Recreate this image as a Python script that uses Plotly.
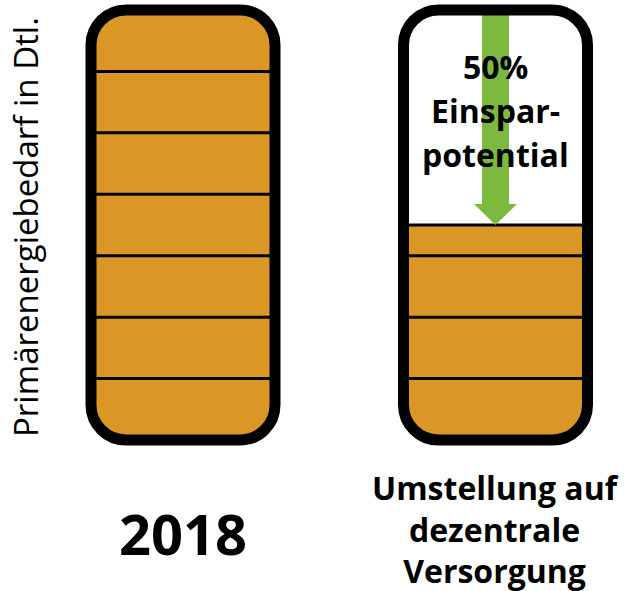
import numpy as np
import plotly.graph_objects as go

# ---------------- data ----------------
categories = ["2018", "Umstellung auf<br>dezentrale<br>Versorgung"]
demand = [7, 3.5]            # Primärenergiebedarf (Einheiten, 2018 = 7)
capacity = 7                 # Skala des Behälters
segment_step = 1             # Teilstriche
savings_lines = ["50%", "Einspar-", "potential"]
y_title = "Primärenergiebedarf in Dtl."

# ---------------- style / layout ----------------
ORANGE = "#DA9725"
GREEN = "#7BBA3F"
FONT = "Open Sans"
W, H = 627, 591
PX_X = 312.5                 # pixels per x unit (distance between categories)
X0_PX = 183                  # pixel position of first category
Y0_PX = 440                  # pixel position of value 0
PX_Y = 430 / capacity        # pixels per value unit

x_range = [-X0_PX / PX_X, (W - X0_PX) / PX_X]
y_range = [-(H - Y0_PX) / PX_Y, Y0_PX / PX_Y]

def ypx(p):
    return (Y0_PX - p) / PX_Y

def xpx(p):
    return (p - X0_PX) / PX_X

BW = 184 / PX_X              # container width (outline centre line)
R_PX = 35
RX, RY = R_PX / PX_X, R_PX / PX_Y
OUTLINE_W = 11
SEG_W = 3

xs = list(range(len(categories)))

fig = go.Figure()

def arc(cx, cy, a0, a1, n=20):
    t = np.radians(np.linspace(a0, a1, n))
    return list(cx + RX * np.cos(t)), list(cy + RY * np.sin(t))

# fills
for xc, d in zip(xs, demand):
    left, right = xc - BW / 2, xc + BW / 2
    px_, py_ = [], []
    for cx, cy, a0, a1 in [(left + RX, RY, 180, 270), (right - RX, RY, 270, 360)]:
        ax_, ay_ = arc(cx, cy, a0, a1)
        px_ += ax_
        py_ += ay_
    if d >= capacity:
        for cx, cy, a0, a1 in [(right - RX, d - RY, 0, 90), (left + RX, d - RY, 90, 180)]:
            ax_, ay_ = arc(cx, cy, a0, a1)
            px_ += ax_
            py_ += ay_
    else:
        px_ += [right, left]
        py_ += [d, d]
    fig.add_trace(go.Scatter(x=px_, y=py_, fill="toself", fillcolor=ORANGE,
                             mode="lines", line=dict(width=0, color=ORANGE),
                             hoverinfo="skip", showlegend=False))

# segment lines
for xc, d in zip(xs, demand):
    left, right = xc - BW / 2, xc + BW / 2
    levels = list(np.arange(segment_step, d, segment_step))
    if d < capacity:
        levels.append(d)
    lx, ly = [], []
    for lv in levels:
        lx += [left, right, None]
        ly += [lv, lv, None]
    fig.add_trace(go.Scatter(x=lx, y=ly, mode="lines",
                             line=dict(color="black", width=SEG_W),
                             hoverinfo="skip", showlegend=False))

# savings arrow
xc = xs[1]
SW = 13.5 / PX_X
HW = 21.5 / PX_X
HL = 21 / PX_Y
tip = demand[1]
hb = tip + HL
fig.add_trace(go.Scatter(
    x=[xc - SW, xc + SW, xc + SW, xc + HW, xc, xc - HW, xc - SW, xc - SW],
    y=[capacity, capacity, hb, hb, tip, hb, hb, capacity],
    fill="toself", fillcolor=GREEN, mode="lines", line=dict(width=0, color=GREEN),
    hoverinfo="skip", showlegend=False))

# container outlines
k = 0.5523
def rrect(x0, x1, y0, y1):
    return (f"M {x0+RX},{y0} L {x1-RX},{y0} "
            f"C {x1-RX+k*RX},{y0} {x1},{y0+RY-k*RY} {x1},{y0+RY} "
            f"L {x1},{y1-RY} "
            f"C {x1},{y1-RY+k*RY} {x1-RX+k*RX},{y1} {x1-RX},{y1} "
            f"L {x0+RX},{y1} "
            f"C {x0+RX-k*RX},{y1} {x0},{y1-RY+k*RY} {x0},{y1-RY} "
            f"L {x0},{y0+RY} "
            f"C {x0},{y0+RY-k*RY} {x0+RX-k*RX},{y0} {x0+RX},{y0} Z")

for xc in xs:
    fig.add_shape(type="path", xref="x", yref="y", layer="above",
                  path=rrect(xc - BW / 2, xc + BW / 2, 0, capacity),
                  line=dict(color="black", width=OUTLINE_W),
                  fillcolor="rgba(0,0,0,0)")

# savings text
for line, p in zip(savings_lines, [66, 110, 154]):
    fig.add_annotation(x=xs[1], y=ypx(p), xref="x", yref="y", text=line,
                       showarrow=False, xanchor="center", yanchor="middle",
                       font=dict(family=FONT, size=32, color="black", weight="bold"))

# category labels
label_sizes = [56, 32]
label_centers = [533, 529]
for xc, cat, fs, p in zip(xs, categories, label_sizes, label_centers):
    fig.add_annotation(x=xc, y=ypx(p), xref="x", yref="y", text=cat,
                       showarrow=False, xanchor="center", yanchor="middle",
                       font=dict(family=FONT, size=fs, color="black", weight="bold"))

# y title
fig.add_annotation(x=xpx(25), y=ypx(227), xref="x", yref="y", text=y_title,
                   textangle=-90, showarrow=False, xanchor="center", yanchor="middle",
                   font=dict(family=FONT, size=33, color="black"))

fig.update_layout(
    width=W, height=H, autosize=False,
    margin=dict(l=0, r=0, t=0, b=0),
    paper_bgcolor="white", plot_bgcolor="white",
    xaxis=dict(range=x_range, visible=False, fixedrange=True),
    yaxis=dict(range=y_range, visible=False, fixedrange=True),
    showlegend=False,
)

fig.write_html("out.html", config={"displayModeBar": False},
               post_script="document.body.style.margin='0';document.body.style.overflow='hidden';")
